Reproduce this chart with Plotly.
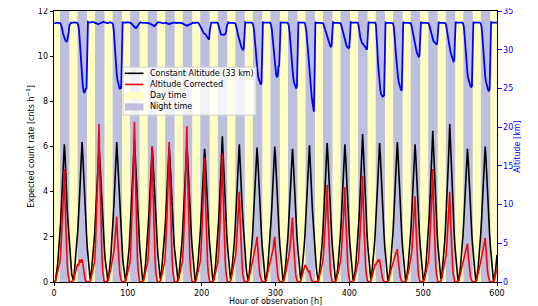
import plotly.graph_objects as go

# ---------------- data ----------------
# start hour of each daily segment (values are hourly from that start)
seg_start = [0, 26, 50, 73, 97, 121, 145, 168, 192, 216, 240, 263, 287, 311,
             335, 358, 382, 406, 430, 453, 477, 501, 525, 548, 572]

black_days = [
    [0.0, 0.0, 0.05, 0.25, 0.5, 0.8, 1.25, 1.6, 2.2, 2.65, 3.35, 4.0, 4.8, 5.3, 6.1, 5.6, 4.6, 3.95, 3.1, 2.65, 2.05, 1.65, 1.1, 0.8, 0.35, 0.15],
    [0.1, 0.2, 0.55, 0.8, 1.25, 1.6, 2.2, 2.75, 3.25, 4.05, 4.8, 5.5, 6.2, 5.6, 4.8, 3.85, 3.25, 2.55, 2.15, 1.55, 1.2, 0.7, 0.45, 0.1],
    [0.2, 0.5, 0.9, 1.2, 1.7, 2.1, 2.75, 3.3, 3.9, 4.75, 5.35, 6.0, 5.45, 4.75, 3.85, 3.25, 2.6, 2.05, 1.65, 1.1, 0.8, 0.4, 0.12],
    [0.05, 0.2, 0.45, 0.9, 1.15, 1.7, 2.1, 2.75, 3.35, 3.9, 4.85, 5.45, 6.2, 5.55, 4.65, 4.0, 3.15, 2.6, 2.1, 1.65, 1.1, 0.75, 0.4, 0.15],
    [0.05, 0.25, 0.5, 0.85, 1.25, 1.6, 2.2, 2.65, 3.35, 4.05, 4.75, 5.6, 6.3, 5.6, 4.85, 3.9, 3.3, 2.6, 2.05, 1.6, 1.2, 0.7, 0.4, 0.1],
    [0.05, 0.2, 0.5, 0.8, 1.2, 1.7, 2.15, 2.7, 3.25, 3.95, 4.65, 5.4, 6.0, 5.45, 4.7, 3.95, 3.2, 2.55, 2.1, 1.6, 1.1, 0.8, 0.35, 0.12],
    [0.2, 0.55, 0.85, 1.2, 1.6, 2.2, 2.7, 3.3, 3.9, 4.7, 5.45, 6.0, 5.5, 4.65, 3.9, 3.25, 2.6, 2.1, 1.55, 1.2, 0.75, 0.4, 0.12],
    [0.05, 0.2, 0.5, 0.9, 1.2, 1.65, 2.1, 2.75, 3.3, 4.0, 4.7, 5.45, 6.1, 5.5, 4.7, 3.85, 3.2, 2.65, 2.1, 1.6, 1.15, 0.75, 0.4, 0.1],
    [0.05, 0.2, 0.5, 0.85, 1.2, 1.65, 2.15, 2.7, 3.25, 3.9, 4.6, 5.3, 5.9, 5.4, 4.6, 3.85, 3.15, 2.6, 2.05, 1.6, 1.15, 0.75, 0.4, 0.12],
    [0.05, 0.2, 0.5, 0.85, 1.25, 1.65, 2.2, 2.7, 3.35, 4.1, 4.9, 5.6, 6.45, 5.7, 4.85, 4.0, 3.25, 2.6, 2.1, 1.6, 1.15, 0.75, 0.4, 0.12],
    [0.2, 0.5, 0.85, 1.2, 1.65, 2.15, 2.7, 3.3, 4.0, 4.75, 5.45, 6.1, 5.55, 4.7, 3.9, 3.2, 2.6, 2.1, 1.6, 1.15, 0.75, 0.4, 0.12],
    [0.05, 0.2, 0.5, 0.85, 1.2, 1.65, 2.15, 2.7, 3.3, 3.9, 4.65, 5.35, 5.95, 5.45, 4.65, 3.9, 3.2, 2.6, 2.1, 1.6, 1.15, 0.75, 0.4, 0.12],
    [0.05, 0.2, 0.5, 0.85, 1.25, 1.6, 2.15, 2.75, 3.3, 3.95, 4.7, 5.4, 6.0, 5.5, 4.7, 3.9, 3.2, 2.6, 2.1, 1.6, 1.15, 0.75, 0.4, 0.12],
    [0.05, 0.2, 0.5, 0.85, 1.2, 1.65, 2.1, 2.7, 3.25, 3.9, 4.6, 5.3, 5.9, 5.4, 4.6, 3.85, 3.15, 2.6, 2.05, 1.6, 1.15, 0.75, 0.4, 0.12],
    [0.2, 0.5, 0.85, 1.2, 1.65, 2.15, 2.7, 3.3, 3.95, 4.7, 5.4, 6.05, 5.5, 4.7, 3.9, 3.2, 2.6, 2.1, 1.6, 1.15, 0.75, 0.4, 0.12],
    [0.05, 0.2, 0.5, 0.85, 1.2, 1.65, 2.15, 2.7, 3.35, 4.0, 4.75, 5.5, 6.15, 5.6, 4.75, 3.95, 3.2, 2.6, 2.1, 1.6, 1.15, 0.75, 0.4, 0.12],
    [0.05, 0.2, 0.5, 0.85, 1.2, 1.65, 2.15, 2.7, 3.3, 4.0, 4.7, 5.45, 6.1, 5.55, 4.7, 3.9, 3.2, 2.6, 2.1, 1.6, 1.15, 0.75, 0.4, 0.12],
    [0.05, 0.2, 0.5, 0.85, 1.25, 1.65, 2.2, 2.75, 3.4, 4.15, 4.95, 5.75, 6.55, 5.85, 4.95, 4.05, 3.3, 2.65, 2.1, 1.6, 1.15, 0.75, 0.4, 0.12],
    [0.2, 0.5, 0.85, 1.2, 1.65, 2.15, 2.7, 3.35, 4.0, 4.75, 5.5, 6.15, 5.6, 4.75, 3.95, 3.2, 2.6, 2.1, 1.6, 1.15, 0.75, 0.4, 0.12],
    [0.05, 0.2, 0.5, 0.85, 1.2, 1.65, 2.15, 2.75, 3.35, 4.05, 4.8, 5.5, 6.2, 5.6, 4.8, 3.95, 3.2, 2.6, 2.1, 1.6, 1.15, 0.75, 0.4, 0.12],
    [0.05, 0.2, 0.5, 0.85, 1.2, 1.65, 2.15, 2.7, 3.3, 4.0, 4.7, 5.45, 6.1, 5.55, 4.7, 3.9, 3.2, 2.6, 2.1, 1.6, 1.15, 0.75, 0.4, 0.12],
    [0.05, 0.2, 0.5, 0.85, 1.25, 1.7, 2.2, 2.8, 3.45, 4.2, 5.05, 5.85, 6.7, 5.95, 5.05, 4.1, 3.3, 2.65, 2.15, 1.6, 1.15, 0.75, 0.4, 0.12],
    [0.2, 0.5, 0.85, 1.25, 1.7, 2.25, 2.85, 3.5, 4.3, 5.2, 6.05, 7.0, 6.2, 5.2, 4.2, 3.35, 2.7, 2.15, 1.6, 1.15, 0.75, 0.4, 0.12],
    [0.05, 0.2, 0.5, 0.85, 1.2, 1.65, 2.1, 2.7, 3.25, 3.9, 4.6, 5.3, 5.9, 5.4, 4.6, 3.85, 3.15, 2.6, 2.05, 1.6, 1.15, 0.75, 0.4, 0.12],
    [0.05, 0.2, 0.5, 0.85, 1.2, 1.65, 2.15, 2.7, 3.3, 3.95, 4.7, 5.4, 6.0, 5.5, 4.7, 3.9, 3.2, 2.6, 2.1, 1.6, 1.15, 0.75, 0.4, 0.12, 0.05, 0.2, 0.5, 0.85, 1.2],
]

red_days = [
    [0.0, 0.0, 0.05, 0.15, 0.3, 0.45, 0.6, 0.75, 0.9, 1.3, 1.8, 2.45, 3.25, 4.1, 5.0, 3.5, 2.25, 1.35, 0.75, 0.35, 0.1, 0.0, 0.0, 0.0, 0.02, 0.03],
    [0.05, 0.1, 0.3, 0.4, 0.6, 0.7, 0.8, 0.7, 0.85, 1.0, 0.85, 0.95, 1.0, 0.8, 0.5, 0.3, 0.15, 0.05, 0.0, 0.0, 0.0, 0.0, 0.02, 0.03],
    [0.15, 0.3, 0.45, 0.6, 0.75, 0.9, 1.5, 2.25, 3.2, 4.4, 5.65, 7.0, 4.9, 3.15, 1.9, 1.05, 0.5, 0.15, 0.0, 0.0, 0.0, 0.02, 0.03],
    [0.05, 0.15, 0.3, 0.45, 0.6, 0.75, 0.9, 1.1, 1.35, 1.65, 2.05, 2.45, 2.9, 2.0, 1.3, 0.8, 0.45, 0.2, 0.05, 0.0, 0.0, 0.0, 0.02, 0.03],
    [0.05, 0.15, 0.3, 0.45, 0.6, 0.75, 0.9, 1.5, 2.25, 3.25, 4.45, 5.75, 7.1, 5.0, 3.2, 1.9, 1.05, 0.5, 0.15, 0.0, 0.0, 0.0, 0.02, 0.03],
    [0.05, 0.15, 0.3, 0.45, 0.6, 0.75, 0.9, 1.4, 2.0, 2.85, 3.8, 4.9, 6.0, 4.2, 2.7, 1.6, 0.9, 0.4, 0.12, 0.0, 0.0, 0.0, 0.02, 0.03],
    [0.15, 0.3, 0.45, 0.6, 0.75, 0.9, 1.45, 2.05, 2.9, 3.9, 5.05, 6.2, 4.35, 2.8, 1.65, 0.95, 0.45, 0.12, 0.0, 0.0, 0.0, 0.02, 0.03],
    [0.05, 0.15, 0.3, 0.45, 0.6, 0.75, 0.9, 1.5, 2.2, 3.2, 4.35, 5.6, 6.9, 4.85, 3.1, 1.85, 1.05, 0.5, 0.15, 0.0, 0.0, 0.0, 0.02, 0.03],
    [0.05, 0.15, 0.3, 0.45, 0.6, 0.75, 0.9, 1.35, 1.9, 2.65, 3.5, 4.5, 5.5, 3.85, 2.5, 1.5, 0.85, 0.4, 0.1, 0.0, 0.0, 0.0, 0.02, 0.03],
    [0.05, 0.15, 0.3, 0.45, 0.6, 0.75, 0.9, 1.4, 1.95, 2.7, 3.65, 4.65, 5.7, 4.0, 2.55, 1.55, 0.85, 0.4, 0.1, 0.0, 0.0, 0.0, 0.02, 0.03],
    [0.15, 0.3, 0.45, 0.6, 0.75, 0.9, 1.2, 1.6, 2.1, 2.65, 3.3, 4.0, 2.8, 1.8, 1.1, 0.6, 0.3, 0.08, 0.0, 0.0, 0.0, 0.02, 0.03],
    [0.05, 0.15, 0.3, 0.45, 0.6, 0.75, 0.9, 1.0, 1.15, 1.3, 1.55, 1.75, 2.0, 1.4, 0.9, 0.55, 0.3, 0.15, 0.04, 0.0, 0.0, 0.0, 0.02, 0.03],
    [0.05, 0.2, 0.3, 0.5, 0.6, 0.7, 0.9, 1.05, 1.1, 1.35, 1.5, 1.8, 2.0, 1.45, 0.9, 0.5, 0.3, 0.12, 0.04, 0.0, 0.0, 0.0, 0.02, 0.03],
    [0.05, 0.15, 0.3, 0.45, 0.6, 0.75, 0.9, 1.1, 1.35, 1.65, 2.0, 2.4, 2.85, 2.0, 1.3, 0.75, 0.45, 0.2, 0.06, 0.0, 0.0, 0.0, 0.02, 0.03],
    [0.15, 0.3, 0.4, 0.55, 0.65, 0.75, 0.7, 0.6, 0.55, 0.5, 0.45, 0.5, 0.3, 0.15, 0.08, 0.03, 0.0, 0.0, 0.0, 0.0, 0.0, 0.02, 0.03],
    [0.05, 0.15, 0.3, 0.45, 0.6, 0.75, 0.9, 1.25, 1.65, 2.2, 2.85, 3.55, 4.3, 3.0, 1.95, 1.15, 0.65, 0.3, 0.09, 0.0, 0.0, 0.0, 0.02, 0.03],
    [0.05, 0.15, 0.3, 0.45, 0.6, 0.75, 0.9, 1.25, 1.65, 2.15, 2.8, 3.5, 4.2, 2.95, 1.9, 1.15, 0.65, 0.3, 0.08, 0.0, 0.0, 0.0, 0.02, 0.03],
    [0.05, 0.15, 0.3, 0.45, 0.6, 0.75, 0.9, 1.3, 1.75, 2.35, 3.05, 3.85, 4.7, 3.3, 2.1, 1.25, 0.7, 0.35, 0.09, 0.0, 0.0, 0.0, 0.02, 0.03],
    [0.15, 0.3, 0.45, 0.55, 0.7, 0.8, 0.75, 0.9, 0.85, 1.0, 0.9, 1.0, 0.75, 0.45, 0.3, 0.15, 0.05, 0.0, 0.0, 0.0, 0.0, 0.02, 0.03],
    [0.05, 0.15, 0.3, 0.45, 0.6, 0.75, 0.9, 0.95, 1.05, 1.15, 1.25, 1.35, 1.45, 1.0, 0.65, 0.4, 0.2, 0.1, 0.03, 0.0, 0.0, 0.0, 0.02, 0.03],
    [0.05, 0.15, 0.3, 0.45, 0.6, 0.75, 0.9, 1.2, 1.55, 2.0, 2.55, 3.15, 3.8, 2.65, 1.7, 1.05, 0.55, 0.25, 0.08, 0.0, 0.0, 0.0, 0.02, 0.03],
    [0.05, 0.15, 0.3, 0.45, 0.6, 0.75, 0.9, 1.3, 1.8, 2.45, 3.25, 4.1, 5.0, 3.5, 2.25, 1.35, 0.75, 0.35, 0.1, 0.0, 0.0, 0.0, 0.02, 0.03],
    [0.15, 0.3, 0.45, 0.6, 0.75, 0.9, 1.2, 1.6, 2.1, 2.65, 3.3, 4.0, 2.8, 1.8, 1.1, 0.6, 0.3, 0.08, 0.0, 0.0, 0.0, 0.02, 0.03],
    [0.05, 0.15, 0.3, 0.45, 0.6, 0.75, 0.9, 1.0, 1.1, 1.2, 1.35, 1.5, 1.7, 1.2, 0.75, 0.45, 0.25, 0.12, 0.03, 0.0, 0.0, 0.0, 0.02, 0.03],
    [0.05, 0.15, 0.3, 0.45, 0.6, 0.75, 0.9, 1.0, 1.15, 1.3, 1.5, 1.75, 1.95, 1.35, 0.9, 0.55, 0.3, 0.14, 0.04, 0.0, 0.0, 0.0, 0.02, 0.03, 0.05, 0.15, 0.3, 0.45, 0.6],
]

alt_days = [
    [33.4, 33.4, 33.45, 33.5, 33.5, 33.45, 33.5, 33.5, 33.45, 33.35, 33.1, 32.7, 32.2, 31.8, 31.5, 31.3, 31.1, 31.05, 31.2, 31.6, 32.3, 33.2, 33.5, 33.5, 33.45, 33.5],
    [33.5, 33.55, 33.5, 33.5, 33.45, 33.5, 33.4, 33.1, 32.4, 30.8, 29.0, 27.5, 26.2, 25.3, 24.7, 24.4, 24.6, 25.0, 24.9, 29.0, 33.6, 33.55, 33.5, 33.5],
    [33.5, 33.55, 33.6, 33.6, 33.55, 33.5, 33.45, 33.4, 33.35, 33.3, 33.3, 33.35, 33.4, 33.45, 33.5, 33.5, 33.55, 33.6, 33.55, 33.5, 33.5, 33.5, 33.45],
    [33.45, 33.5, 33.5, 33.55, 33.5, 33.5, 33.45, 33.2, 32.5, 31.0, 29.3, 27.9, 26.8, 26.1, 25.5, 25.1, 24.9, 25.1, 25.0, 29.5, 33.6, 33.5, 33.5, 33.45],
    [33.5, 33.5, 33.55, 33.5, 33.5, 33.5, 33.5, 33.45, 33.4, 33.3, 33.15, 33.0, 32.9, 32.85, 32.8, 32.85, 33.0, 33.2, 33.35, 33.5, 33.55, 33.5, 33.5, 33.5],
    [33.5, 33.5, 33.5, 33.5, 33.5, 33.5, 33.5, 33.45, 33.4, 33.35, 33.25, 33.15, 33.1, 33.05, 33.0, 33.05, 33.15, 33.3, 33.4, 33.5, 33.55, 33.5, 33.5, 33.5],
    [33.5, 33.5, 33.45, 33.4, 33.4, 33.45, 33.5, 33.45, 33.4, 33.35, 33.3, 33.3, 33.35, 33.4, 33.4, 33.45, 33.5, 33.5, 33.5, 33.45, 33.4, 33.45, 33.5],
    [33.5, 33.5, 33.45, 33.5, 33.5, 33.45, 33.4, 33.35, 33.3, 33.2, 33.15, 33.1, 33.1, 33.15, 33.2, 33.3, 33.35, 33.4, 33.45, 33.5, 33.5, 33.5, 33.45, 33.5],
    [33.5, 33.5, 33.5, 33.5, 33.4, 33.2, 33.0, 32.8, 32.6, 32.4, 32.2, 32.1, 32.05, 32.0, 31.9, 31.7, 31.5, 31.4, 31.3, 32.5, 33.5, 33.5, 33.5, 33.5],
    [33.5, 33.5, 33.5, 33.5, 33.5, 33.5, 33.4, 33.0, 32.4, 32.1, 32.0, 31.95, 31.95, 31.9, 31.9, 31.95, 32.0, 32.3, 33.0, 33.5, 33.55, 33.5, 33.5, 33.5],
    [33.5, 33.5, 33.5, 33.5, 33.5, 33.45, 33.3, 33.0, 32.5, 32.0, 31.6, 31.2, 30.9, 30.6, 30.3, 30.1, 30.0, 30.2, 32.0, 33.55, 33.5, 33.5, 33.5],
    [33.5, 33.5, 33.55, 33.5, 33.5, 33.5, 33.4, 33.1, 32.4, 31.2, 29.8, 28.6, 27.6, 26.9, 26.3, 25.9, 25.6, 25.5, 25.7, 29.5, 33.6, 33.5, 33.5, 33.5],
    [33.5, 33.5, 33.5, 33.5, 33.55, 33.5, 33.45, 33.2, 32.6, 31.5, 30.2, 29.0, 28.0, 27.2, 26.7, 26.45, 26.6, 27.8, 28.0, 30.5, 33.6, 33.5, 33.5, 33.5],
    [33.5, 33.5, 33.5, 33.5, 33.5, 33.5, 33.4, 33.1, 32.3, 31.0, 29.5, 28.2, 27.2, 26.4, 25.8, 25.4, 25.1, 25.0, 25.2, 29.3, 33.6, 33.5, 33.5, 33.5],
    [33.5, 33.5, 33.5, 33.5, 33.5, 33.4, 33.0, 32.2, 31.0, 29.6, 28.2, 27.0, 25.9, 24.9, 24.0, 23.2, 22.5, 22.0, 27.0, 33.6, 33.5, 33.5, 33.5],
    [33.5, 33.5, 33.5, 33.5, 33.5, 33.5, 33.45, 33.3, 33.0, 32.6, 32.2, 31.8, 31.5, 31.2, 30.9, 30.7, 30.5, 30.4, 30.5, 32.2, 33.55, 33.5, 33.5, 33.5],
    [33.5, 33.5, 33.5, 33.5, 33.5, 33.5, 33.45, 33.2, 32.8, 32.3, 31.9, 31.5, 31.2, 30.9, 30.6, 30.4, 30.3, 30.2, 30.3, 32.0, 33.55, 33.5, 33.5, 33.5],
    [33.5, 33.5, 33.5, 33.5, 33.5, 33.5, 33.4, 33.0, 32.2, 31.5, 31.1, 30.9, 30.8, 30.7, 30.6, 30.5, 30.3, 30.1, 30.0, 31.8, 33.6, 33.5, 33.5, 33.5],
    [33.5, 33.5, 33.5, 33.5, 33.5, 33.5, 33.2, 32.0, 30.0, 28.0, 26.5, 25.5, 24.8, 24.3, 24.0, 23.95, 24.0, 24.1, 28.5, 33.6, 33.5, 33.5, 33.5],
    [33.5, 33.5, 33.5, 33.5, 33.5, 33.5, 33.45, 33.1, 32.3, 31.0, 29.5, 28.2, 27.2, 26.4, 25.8, 25.3, 25.0, 24.8, 24.7, 29.0, 33.6, 33.5, 33.5, 33.5],
    [33.5, 33.5, 33.5, 33.5, 33.5, 33.5, 33.45, 33.2, 32.7, 32.0, 31.3, 30.8, 30.4, 30.1, 29.8, 29.5, 29.3, 29.1, 29.2, 31.5, 33.6, 33.5, 33.5, 33.5],
    [33.5, 33.5, 33.5, 33.5, 33.5, 33.5, 33.45, 33.25, 32.9, 32.4, 31.9, 31.5, 31.3, 31.1, 31.0, 30.9, 30.8, 30.7, 30.8, 32.3, 33.6, 33.5, 33.5, 33.5],
    [33.5, 33.5, 33.5, 33.5, 33.5, 33.45, 33.2, 32.6, 31.8, 31.0, 30.4, 30.0, 29.7, 29.4, 29.1, 28.8, 28.5, 28.6, 31.0, 33.6, 33.5, 33.5, 33.5],
    [33.5, 33.5, 33.5, 33.5, 33.5, 33.5, 33.4, 33.0, 32.0, 30.5, 29.0, 27.8, 26.9, 26.3, 25.8, 25.5, 25.3, 25.2, 25.3, 29.5, 33.6, 33.5, 33.5, 33.5],
    [33.5, 33.5, 33.5, 33.5, 33.5, 33.5, 33.4, 33.0, 32.0, 30.4, 28.8, 27.5, 26.6, 25.9, 25.4, 25.0, 24.8, 24.7, 24.9, 29.0, 33.55, 33.5, 33.5, 33.5, 33.5, 33.5, 33.5, 33.5, 33.5],
]

night_start = [8.1, 31.9, 55.6, 79.4, 103.1, 126.9, 150.6, 174.4, 198.1, 221.9, 245.6, 269.4, 293.1,
               316.9, 340.6, 364.4, 388.1, 411.9, 435.6, 459.4, 483.1, 506.9, 530.6, 554.4, 578.1]
night_end = [20.9, 44.7, 68.4, 92.2, 115.9, 139.7, 163.4, 187.2, 210.9, 234.7, 258.4, 282.2, 305.9,
             329.7, 353.4, 377.2, 400.9, 424.7, 448.4, 472.2, 495.9, 519.7, 543.4, 567.2, 590.9]

x_range = [0, 600]
x_ticks = [0, 100, 200, 300, 400, 500, 600]
rate_range = [0, 12]
rate_ticks = [0, 2, 4, 6, 8, 10, 12]
alt_range = [0, 35]
alt_ticks = [0, 5, 10, 15, 20, 25, 30, 35]

legend_labels = ["Constant Altitude (33 km)", "Altitude Corrected", "Day time", "Night time"]

# ---------------- build ----------------
def flatten(days):
    xs, ys = [], []
    for s, vals in zip(seg_start, days):
        for i, v in enumerate(vals):
            xs.append(s + i)
            ys.append(v)
    return xs, ys

bx, by = flatten(black_days)
rx, ry = flatten(red_days)
ax_, ay = flatten(alt_days)

night_edges = [v for pair in zip(night_start, night_end) for v in pair]
day_edges = [x_range[0]] + night_edges + [x_range[1]]

def rects(edges):
    xs, ys = [], []
    for a, b in zip(edges[0::2], edges[1::2]):
        xs += [a, a, b, b, a, None]
        ys += [rate_range[0], rate_range[1], rate_range[1], rate_range[0], rate_range[0], None]
    return xs, ys

dx, dy = rects(day_edges)
nx, ny = rects(night_edges)

DAY = "rgb(255,255,191)"
NIGHT = "rgb(190,190,222)"
BLACK = "black"
RED = "red"
BLUE = "blue"
FS = 8

fig = go.Figure()
fig.add_trace(go.Scatter(x=dx, y=dy, fill="toself", fillcolor=DAY, mode="lines",
                         line=dict(width=0, color=DAY), name=legend_labels[2],
                         showlegend=False, hoverinfo="skip"))
fig.add_trace(go.Scatter(x=nx, y=ny, fill="toself", fillcolor=NIGHT, mode="lines",
                         line=dict(width=0, color=NIGHT), name=legend_labels[3],
                         showlegend=False, hoverinfo="skip"))
fig.add_trace(go.Scatter(x=bx, y=by, mode="lines", line=dict(color=BLACK, width=1.6),
                         name=legend_labels[0], showlegend=False))
fig.add_trace(go.Scatter(x=rx, y=ry, mode="lines", line=dict(color=RED, width=1.6),
                         name=legend_labels[1], showlegend=False))
fig.add_trace(go.Scatter(x=ax_, y=ay, mode="lines", line=dict(color=BLUE, width=1.8),
                         name="Altitude", showlegend=False, yaxis="y2"))

# ---- matplotlib-style legend box (paper coordinates of the plot area) ----
lg_x0, lg_x1, lg_top, lg_bot = 0.156, 0.456, 0.793, 0.616
row_y = [0.770, 0.729, 0.6875, 0.646]
h_x0, h_x1, txt_x = 0.160, 0.202, 0.213
shapes = [dict(type="rect", xref="paper", yref="paper", x0=lg_x0, x1=lg_x1, y0=lg_bot, y1=lg_top,
               fillcolor="rgba(255,255,255,0.8)", line=dict(color="#d0d0d0", width=1), layer="above")]
shapes.append(dict(type="line", xref="paper", yref="paper", x0=h_x0, x1=h_x1, y0=row_y[0], y1=row_y[0],
                   line=dict(color=BLACK, width=1.6)))
shapes.append(dict(type="line", xref="paper", yref="paper", x0=h_x0, x1=h_x1, y0=row_y[1], y1=row_y[1],
                   line=dict(color=RED, width=1.6)))
for ry_, col in ((row_y[2], DAY), (row_y[3], NIGHT)):
    shapes.append(dict(type="rect", xref="paper", yref="paper", x0=h_x0, x1=h_x1,
                       y0=ry_ - 0.013, y1=ry_ + 0.013, fillcolor=col, line=dict(width=0)))
annotations = [dict(xref="paper", yref="paper", x=txt_x, y=yy, text=t, showarrow=False,
                    xanchor="left", yanchor="middle", font=dict(size=FS, color="black"))
               for yy, t in zip(row_y, legend_labels)]

FONT = "DejaVu Sans"
fig.update_layout(
    width=530, height=298,
    margin=dict(l=46, r=41, t=3, b=24, autoexpand=False),
    paper_bgcolor="white", plot_bgcolor="white",
    font=dict(family=FONT, size=FS, color="black"),
    showlegend=False,
    shapes=shapes, annotations=annotations,
    xaxis=dict(range=x_range, tickvals=x_ticks, ticks="outside", ticklen=3.5, tickwidth=0.8,
               tickcolor="black", showline=True, linecolor="black", linewidth=0.8, mirror=True,
               showgrid=False, zeroline=False, automargin=False, ticklabeloverflow="allow",
               tickfont=dict(size=FS),
               title=dict(text="Hour of observation [h]", standoff=0, font=dict(size=FS))),
    yaxis=dict(range=rate_range, tickvals=rate_ticks, ticks="outside", ticklen=3.5, tickwidth=0.8,
               tickcolor="black", showline=True, linecolor="black", linewidth=0.8, mirror=True,
               showgrid=False, zeroline=False, automargin=False, ticklabeloverflow="allow",
               tickfont=dict(size=FS),
               title=dict(text="Expected count rate [cnts h<sup>\u22121</sup>]", standoff=2,
                          font=dict(size=FS))),
    yaxis2=dict(range=alt_range, tickvals=alt_ticks, overlaying="y", side="right",
                ticks="outside", ticklen=3.5, tickwidth=0.8, tickcolor=BLUE,
                tickfont=dict(color=BLUE, size=FS), showgrid=False, zeroline=False, showline=False,
                automargin=False, ticklabeloverflow="allow",
                title=dict(text="Altitude [km]", font=dict(color=BLUE, size=FS), standoff=2)),
)

fig.write_html("out.html")
